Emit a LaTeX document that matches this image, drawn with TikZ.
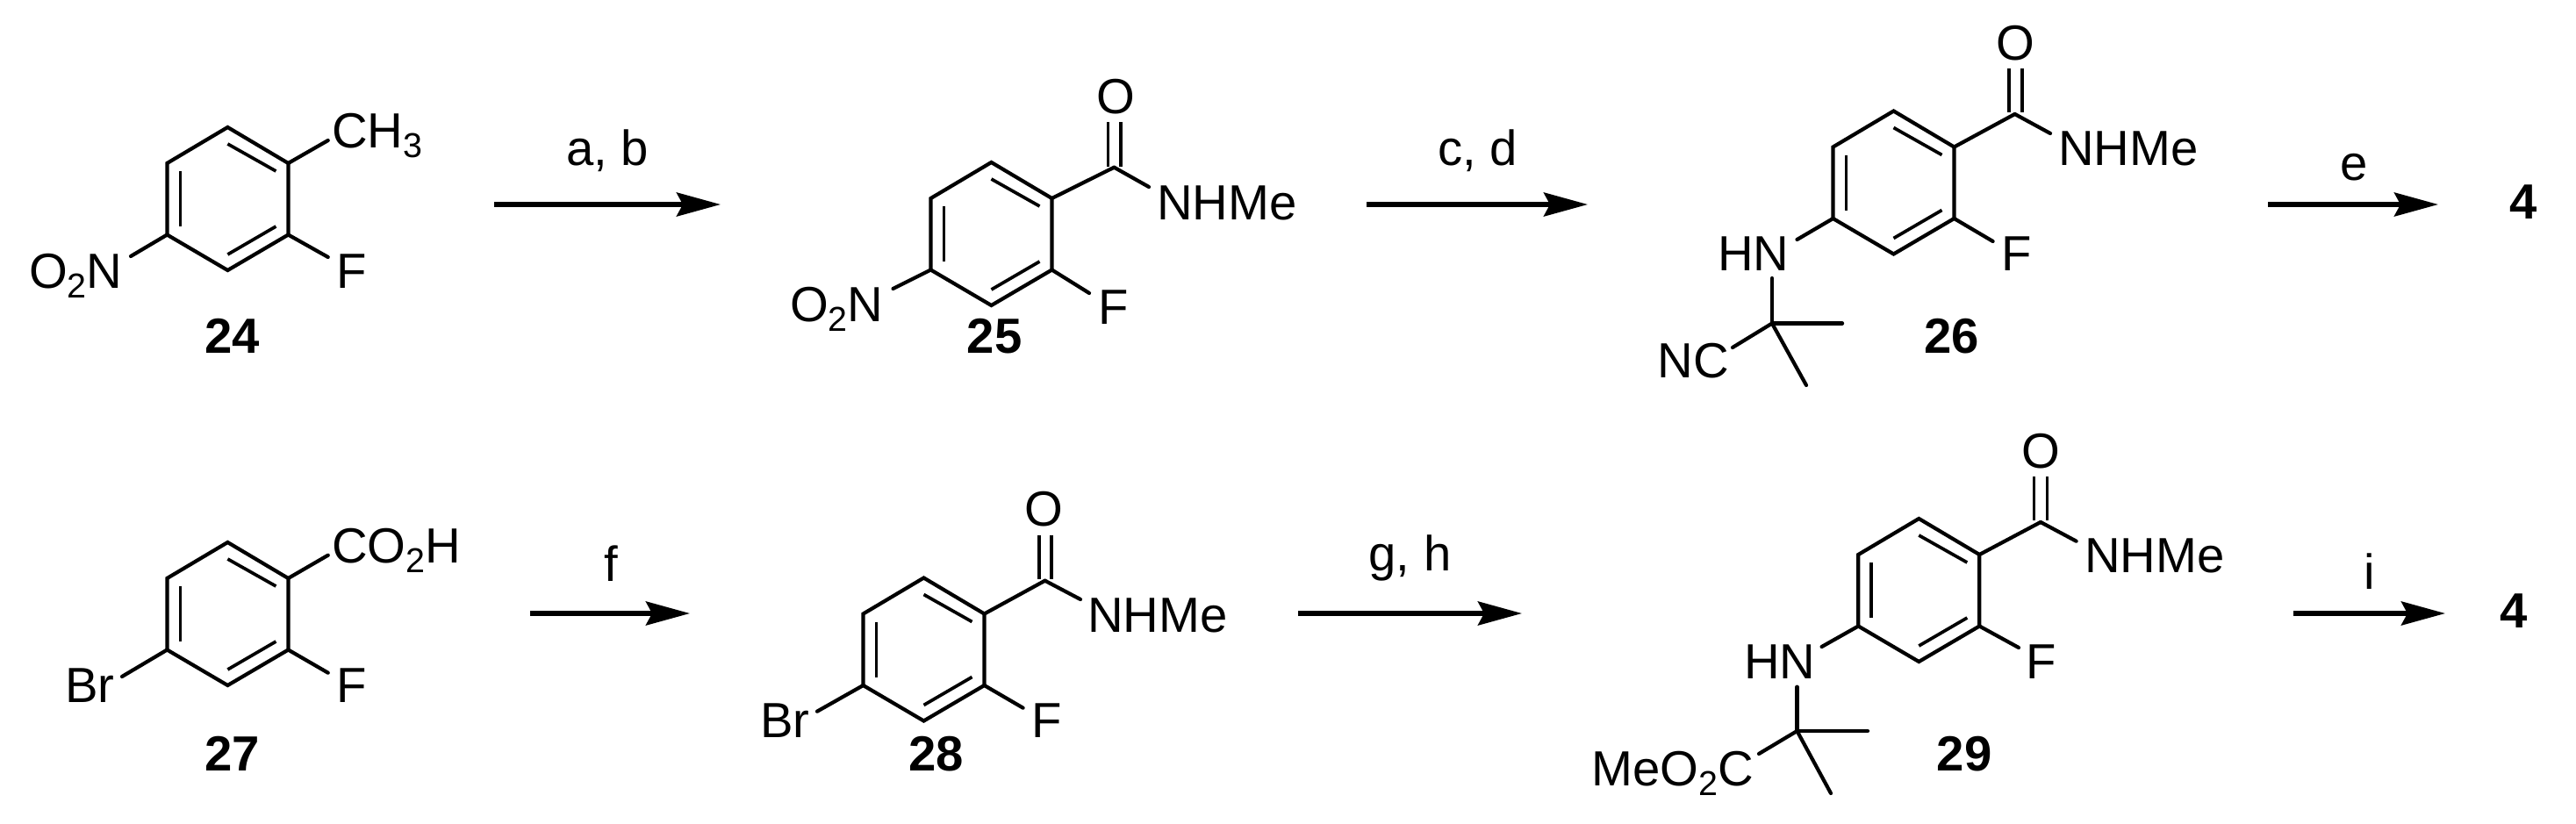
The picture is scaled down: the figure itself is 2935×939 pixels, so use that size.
\documentclass[tikz,border=0pt]{standalone}
\usepackage{fontspec}
\setmainfont{Liberation Sans}
\usetikzlibrary{arrows.meta}
\newcommand{\subs}[1]{\raisebox{-3.4pt}{\fontsize{11.2}{11.2}\selectfont #1}}
\tikzset{
  bond/.style={line width=0.042cm,line cap=round,line join=miter,black},
  innerbond/.style={line width=0.037cm,black},
  rxn/.style={line width=0.052cm,-{Stealth[length=0.5cm,width=0.27cm,inset=0.07cm]}},
  atom/.style={inner sep=0,outer sep=0,anchor=base west,font=\fontsize{16}{18}\selectfont},
  reag/.style={inner sep=0,outer sep=0,anchor=base,font=\fontsize{16}{18}\selectfont},
  cmpd/.style={inner sep=0,outer sep=0,anchor=base,font=\fontsize{16}{18}\selectfont\bfseries},
}
% ring: name, centre x, centre y
\newcommand{\ringat}[3]{%
  \begin{scope}[shift={(#2,#3)}]
    \coordinate (#1t) at (0,-81.5);
    \coordinate (#1ur) at (69,-40.5);
    \coordinate (#1lr) at (69,41);
    \coordinate (#1b) at (0,81.5);
    \coordinate (#1ll) at (-69,41);
    \coordinate (#1ul) at (-69,-40.5);
    \draw[bond] (#1t) -- (#1ur) -- (#1lr) -- (#1b) -- (#1ll) -- (#1ul) -- cycle;
    \coordinate (#1ia) at (-54,-31.5);
    \coordinate (#1ib) at (-54,31.5);
    \coordinate (#1ic) at (0,-62.5);
    \coordinate (#1id) at (55,-31.5);
    \coordinate (#1ie) at (0,63.5);
    \coordinate (#1if) at (55,31.5);
    \draw[innerbond] (#1ia) -- (#1ib);
    \draw[innerbond] (#1ic) -- (#1id);
    \draw[innerbond] (#1ie) -- (#1if);
  \end{scope}}
% bond from named point to a new named free end
\newcommand{\bondto}[4]{\coordinate (#2) at (#3,#4); \draw[bond] (#1) -- (#2);}
% C=O: name, x1, x2, y top, y bottom
\newcommand{\cdo}[5]{%
  \coordinate (#1a) at (#2,#4); \coordinate (#1b) at (#2,#5);
  \coordinate (#1c) at (#3,#4); \coordinate (#1d) at (#3,#5);
  \draw[innerbond] (#1a) -- (#1b);
  \draw[innerbond] (#1c) -- (#1d);}
% arrow: name, x start, x end, y
\newcommand{\rxnarrow}[4]{%
  \coordinate (#1s) at (#2,#4); \coordinate (#1e) at (#3,#4);
  \draw[rxn] (#1s) -- (#1e);}
\begin{document}
\begin{tikzpicture}[x=0.01cm,y=-0.01cm]
\useasboundingbox (0,0) rectangle (2935,939);
\fill[white] (0,0) rectangle (2935,939);

% 24
\ringat{p}{259.4}{226.5}
\bondto{pur}{pme}{373.75}{160}
\bondto{plr}{pf}{373.75}{293}
\bondto{pll}{pn}{149}{292}
\node[atom] (me24) at (378,168) {CH\subs{3}};
\node[atom] (f24) at (383,328) {F};
\node[atom] (no24) at (33,328) {O\subs{2}N};
\node[cmpd] (c24) at (264.5,402) {24};
\rxnarrow{aone}{563}{821}{233}
\node[reag] (lab) at (692,188) {a, b};

% 25
\ringat{q}{1129.5}{266.5}
\bondto{qur}{qc}{1269.4}{190.7}
\cdo{qo}{1262.5}{1277}{139}{190}
\bondto{qc}{qn}{1309}{213}
\bondto{qlr}{qf}{1241}{334}
\bondto{qll}{qno}{1017.5}{329}
\node[atom] (o25) at (1249,129.5) {O};
\node[atom] (n25) at (1318,250.5) {NHMe};
\node[atom] (f25) at (1251,369) {F};
\node[atom] (no25) at (900,366) {O\subs{2}N};
\node[cmpd] (c25) at (1133,402) {25};
\rxnarrow{atwo}{1557}{1809}{233}
\node[reag] (lcd) at (1683.5,188) {c, d};

% 26
\ringat{r}{2157.5}{208}
\bondto{rur}{rc}{2295.6}{130}
\cdo{ro}{2289}{2304}{78}{128}
\bondto{rc}{rn}{2336}{152}
\bondto{rlr}{rf}{2270.6}{275}
\bondto{rll}{rhn}{2047.5}{273}
\coordinate (rq) at (2019,368.5);
\coordinate (rqt) at (2019,317);
\draw[bond] (rqt) -- (rq);
\bondto{rq}{rm}{2099}{368.5}
\bondto{rq}{rm2}{2058}{439}
\bondto{rq}{rcn}{1974}{396}
\node[atom] (o26) at (2274,68.5) {O};
\node[atom] (n26) at (2345,188) {NHMe};
\node[atom] (f26) at (2280,308) {F};
\node[atom] (hn26) at (1957,308) {HN};
\node[atom] (nc26) at (1888.5,430.5) {NC};
\node[cmpd] (c26) at (2223.5,402) {26};
\rxnarrow{athree}{2584}{2778}{233}
\node[reag] (le) at (2682,205) {e};
\node[cmpd] (p4a) at (2875,249) {4};

% 27
\ringat{s}{259.4}{699.5}
\bondto{sur}{sco}{373.75}{632.7}
\bondto{slr}{sf}{373.75}{766.7}
\bondto{sll}{sbr}{139}{771}
\node[atom] (co27) at (378,641) {CO\subs{2}H};
\node[atom] (f27) at (383,800.7) {F};
\node[atom] (br27) at (74,800.7) {Br};
\node[cmpd] (c27) at (264.5,878) {27};
\rxnarrow{afour}{604}{786}{699}
\node[reag] (lf) at (696,662.7) {f};

% 28
\ringat{t}{1052.5}{740}
\bondto{tur}{tc}{1190.6}{661.7}
\cdo{to}{1183.75}{1198}{610}{660}
\bondto{tc}{tn}{1231}{683}
\bondto{tlr}{tf}{1165.6}{806.7}
\bondto{tll}{tbr}{931}{810.7}
\node[atom] (o28) at (1167.5,599.5) {O};
\node[atom] (n28) at (1239,720) {NHMe};
\node[atom] (f28) at (1175,840.7) {F};
\node[atom] (br28) at (866,840.7) {Br};
\node[cmpd] (c28) at (1066.5,878) {28};
\rxnarrow{afive}{1479}{1734}{699}
\node[reag] (lgh) at (1606.5,650) {g, h};

% 29
\ringat{u}{2186.3}{672.5}
\bondto{uur}{uc}{2325}{595}
\cdo{uo}{2317.5}{2332.5}{543}{593}
\bondto{uc}{un}{2365.6}{616.7}
\bondto{ulr}{uf}{2300}{738}
\bondto{ull}{uhn}{2075.6}{737}
\coordinate (uq) at (2047.5,833);
\coordinate (uqt) at (2047.5,782.7);
\draw[bond] (uqt) -- (uq);
\bondto{uq}{um}{2128}{833}
\bondto{uq}{um2}{2086}{904}
\bondto{uq}{uco}{2004}{859}
\node[atom] (o29) at (2303,533) {O};
\node[atom] (n29) at (2375,652.7) {NHMe};
\node[atom] (f29) at (2308.5,773) {F};
\node[atom] (hn29) at (1987,773) {HN};
\node[atom] (co29) at (1813.5,895) {MeO\subs{2}C};
\node[cmpd] (c29) at (2238,878) {29};
\rxnarrow{asix}{2613}{2786}{699}
\node[reag] (li) at (2700,671.7) {i};
\node[cmpd] (p4b) at (2864,715) {4};
\end{tikzpicture}
\end{document}
